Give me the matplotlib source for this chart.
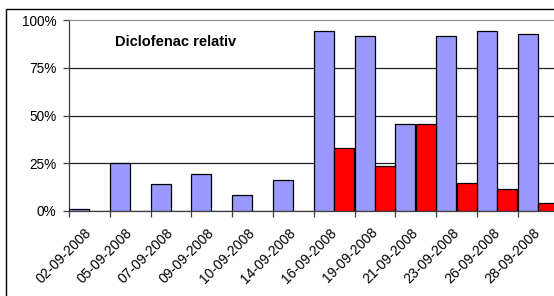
#!/usr/bin/env python3
"""Diclofenac relativ -- paired bars per sampling date (Excel-style look)."""
import numpy as np
import matplotlib.pyplot as plt
from matplotlib.patches import Rectangle
from matplotlib.ticker import PercentFormatter

plt.rcParams["font.family"] = ["Liberation Sans", "DejaVu Sans"]

DATES = ["02-09-2008", "05-09-2008", "07-09-2008", "09-09-2008", "10-09-2008",
         "14-09-2008", "16-09-2008", "19-09-2008", "21-09-2008", "23-09-2008",
         "26-09-2008", "28-09-2008"]
BLUE_VALS = [1.0, 25.3, 14.3, 19.5, 8.2, 16.4, 94.2, 91.8, 45.4, 91.8, 94.2, 92.5]
RED_VALS = [0, 0, 0, 0, 0, 0, 32.8, 23.6, 45.4, 14.7, 11.7, 4.2]
YTICKS = [0, 25, 50, 75, 100]


def main():
    W, H = 554, 296
    fig = plt.figure(figsize=(W / 100, H / 100), dpi=100)
    # axes area in pixels: x from 69 (12 categories of ~40.8 px), y from 20 (100%) to 211 (0%)
    left, top, bottom = 69, 20, 211
    width = 12 * 40.8
    ax = fig.add_axes([left / W, 1 - bottom / H, width / W, (bottom - top) / H])

    # outer chart frame (cut off at right/bottom like the reference)
    fig.patches.append(Rectangle((6 / W, -0.1), 1.2, 1 - 8.5 / H + 0.1,
                                 transform=fig.transFigure, fill=False,
                                 edgecolor="black", lw=1.0))

    x = np.arange(len(DATES))
    bw = 0.49
    ax.bar(x - 0.5, BLUE_VALS, width=bw, align="edge", color="#9999FF",
           edgecolor="black", lw=0.9, zorder=3)
    ax.bar(x, RED_VALS, width=bw, align="edge", color="#FF0000",
           edgecolor="black", lw=0.9, zorder=3)

    ax.set_xlim(-0.5, len(DATES) - 0.5)
    ax.set_ylim(0, 100)
    ax.set_yticks(YTICKS)
    ax.yaxis.set_major_formatter(PercentFormatter(decimals=0))
    for yv in YTICKS[1:-1]:
        ax.axhline(yv, color="#202020", lw=0.9, zorder=1)

    ax.set_xticks(x)
    ax.set_xticklabels(DATES, rotation=45, ha="right", va="center",
                       rotation_mode="anchor", fontsize=10)
    ax.set_xticks(np.arange(len(DATES)) - 0.5, minor=True)
    ax.tick_params(axis="x", which="major", length=0, pad=14)
    ax.tick_params(axis="x", which="minor", length=4, width=0.9, color="#404040")
    ax.tick_params(axis="y", length=4, width=0.9, color="#404040", pad=5,
                   labelsize=9.8)

    for side in ("left", "bottom"):
        ax.spines[side].set_color("#404040")
        ax.spines[side].set_linewidth(0.9)
    ax.spines["top"].set_color("#8c8c8c")
    ax.spines["right"].set_visible(False)

    fig.text(115 / W, 1 - 42 / H, "Diclofenac relativ", fontsize=10.5,
             fontweight="bold", va="center", ha="left")

    fig.savefig("out.png", dpi=100)
    plt.close(fig)


if __name__ == "__main__":
    main()
